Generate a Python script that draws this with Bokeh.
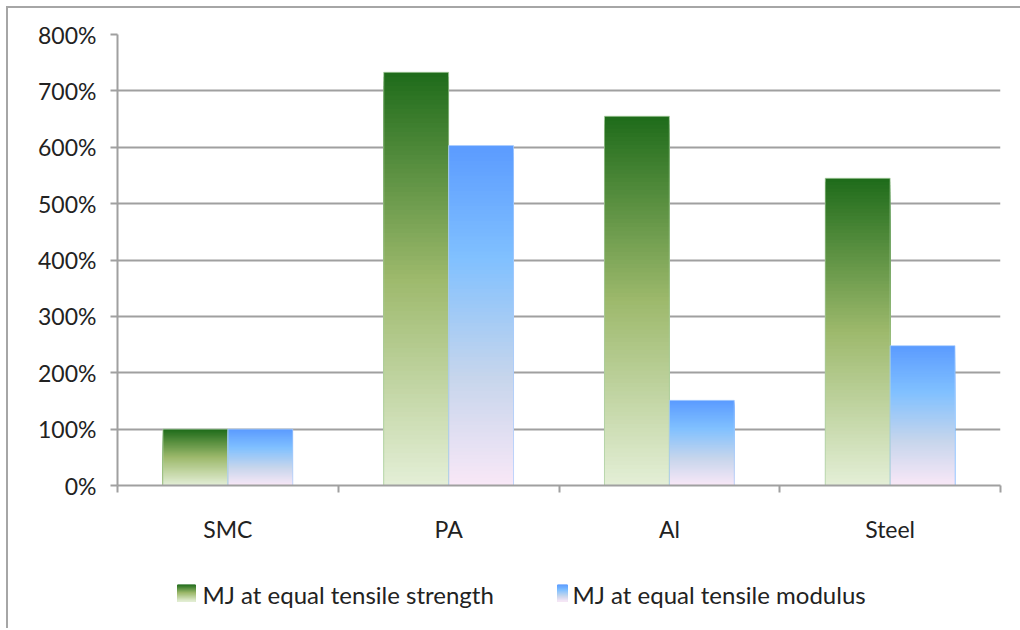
from bokeh.plotting import figure
from bokeh.layouts import column
from bokeh.models import FixedTicker, Range1d
from bokeh.core.properties import value
from bokeh.embed import file_html
from bokeh.resources import INLINE

# Mass-justification ratios per material (percent)
materials = ["SMC", "PA", "Al", "Steel"]
mj_strength = [100, 733, 655, 545]
mj_modulus = [100, 603, 151, 248]
series_names = ["MJ at equal tensile strength", "MJ at equal tensile modulus"]
y_ticks = [0, 100, 200, 300, 400, 500, 600, 700, 800]
y_tick_labels = ["0%", "100%", "200%", "300%", "400%", "500%", "600%", "700%", "800%"]

# Vertical gradient stops (fraction from top of bar -> RGB)
green_stops = [(0.0, (30, 107, 26)), (0.5, (157, 185, 108)), (1.0, (228, 239, 215))]
blue_stops = [(0.0, (91, 155, 255)), (0.33, (128, 192, 255)), (0.68, (198, 213, 236)), (1.0, (249, 232, 247))]

FONT = "Lato"
TEXT_COLOR = "#222222"
GRID_COLOR = "#a0a0a0"
N_STEPS = 90


def blend(stops, t):
    for (t0, c0), (t1, c1) in zip(stops[:-1], stops[1:]):
        if t <= t1:
            f = 0.0 if t1 == t0 else (t - t0) / (t1 - t0)
            return "#%02x%02x%02x" % tuple(int(round(a + (b - a) * f)) for a, b in zip(c0, c1))
    return "#%02x%02x%02x" % stops[-1][1]


def gradient_bar(fig, left, right, bottom, top, stops):
    # stacked overlapping rectangles, tallest first, so the fill fades top -> bottom
    lefts, rights, bottoms, tops, colors = [], [], [], [], []
    for k in range(N_STEPS):
        t = k / N_STEPS
        lefts.append(left)
        rights.append(right)
        bottoms.append(bottom)
        tops.append(top - (top - bottom) * t)
        colors.append(blend(stops, t + 0.5 / N_STEPS))
    fig.quad(left=lefts, right=rights, bottom=bottoms, top=tops,
             fill_color=colors, line_color=None)


p = figure(width=1012, height=560, output_backend="svg", toolbar_location=None,
           x_range=Range1d(0, len(materials)), y_range=Range1d(0, 800),
           min_border_left=109, min_border_top=26, min_border_right=20, min_border_bottom=83,
           background_fill_color="white", border_fill_color="white")
p.outline_line_color = None

bar_w = 0.294
for i, (s, m) in enumerate(zip(mj_strength, mj_modulus)):
    c = i + 0.5
    gradient_bar(p, c - bar_w, c, 0, s, green_stops)
    gradient_bar(p, c, c + bar_w, 0, m, blue_stops)
    p.quad(left=[c - bar_w], right=[c], bottom=[0], top=[s], fill_color=None,
           line_color="#a9cf9f", line_width=1, line_alpha=0.7)
    p.quad(left=[c], right=[c + bar_w], bottom=[0], top=[m], fill_color=None,
           line_color="#a9cdfd", line_width=1, line_alpha=0.7)

# y axis
p.yaxis.ticker = FixedTicker(ticks=y_ticks)
p.yaxis.major_label_overrides = dict(zip(y_ticks, y_tick_labels))
p.yaxis.axis_line_color = GRID_COLOR
p.yaxis.axis_line_width = 2
p.yaxis.major_tick_line_color = GRID_COLOR
p.yaxis.major_tick_line_width = 2
p.yaxis.major_tick_out = 7
p.yaxis.major_tick_in = 0
p.yaxis.minor_tick_line_color = None
p.yaxis.major_label_standoff = 14
p.yaxis.major_label_text_font = FONT
p.yaxis.major_label_text_font_size = "23px"
p.yaxis.major_label_text_color = TEXT_COLOR

# x axis: labels under each group, tick marks on group boundaries
centers = [i + 0.5 for i in range(len(materials))]
bounds = list(range(len(materials) + 1))
p.xaxis.ticker = FixedTicker(ticks=centers, minor_ticks=bounds)
p.xaxis.major_label_overrides = dict(zip(centers, materials))
p.xaxis.axis_line_color = GRID_COLOR
p.xaxis.axis_line_width = 2
p.xaxis.major_tick_line_color = None
p.xaxis.minor_tick_line_color = GRID_COLOR
p.xaxis.minor_tick_line_width = 2
p.xaxis.minor_tick_out = 7
p.xaxis.minor_tick_in = 0
p.xaxis.major_label_standoff = 22
p.xaxis.major_label_text_font = FONT
p.xaxis.major_label_text_font_size = "23px"
p.xaxis.major_label_text_color = TEXT_COLOR

p.xgrid.grid_line_color = None
p.ygrid.grid_line_color = GRID_COLOR
p.ygrid.grid_line_width = 2

# legend strip with gradient swatches; its frame lines up with the chart frame,
# so the x range is expressed in page pixels across that frame
leg = figure(width=1012, height=60, output_backend="svg", toolbar_location=None,
             x_range=Range1d(117, 1000), y_range=Range1d(60, 0),
             min_border=0, background_fill_color="white", border_fill_color="white")
leg.axis.visible = False
leg.grid.visible = False
leg.outline_line_color = None

swatch_left = [177, 557]
swatch_right = [195, 567]
text_left = [202, 572]
for sl, sr, tl, name, stops in zip(swatch_left, swatch_right, text_left, series_names,
                                   [green_stops, blue_stops]):
    gradient_bar(leg, sl, sr, 33, 16, stops)
    leg.text(x=[tl], y=[26], text=[name], text_font=value(FONT),
             text_font_size="24px", text_color=TEXT_COLOR,
             text_baseline="middle", text_align="left")

layout = column(p, leg, spacing=0, margin=(6, 0, 0, 6),
                styles={"border-top": "2px solid #a6a6a6", "border-left": "2px solid #a6a6a6"})

open("out.html", "w").write(file_html(layout, INLINE))
